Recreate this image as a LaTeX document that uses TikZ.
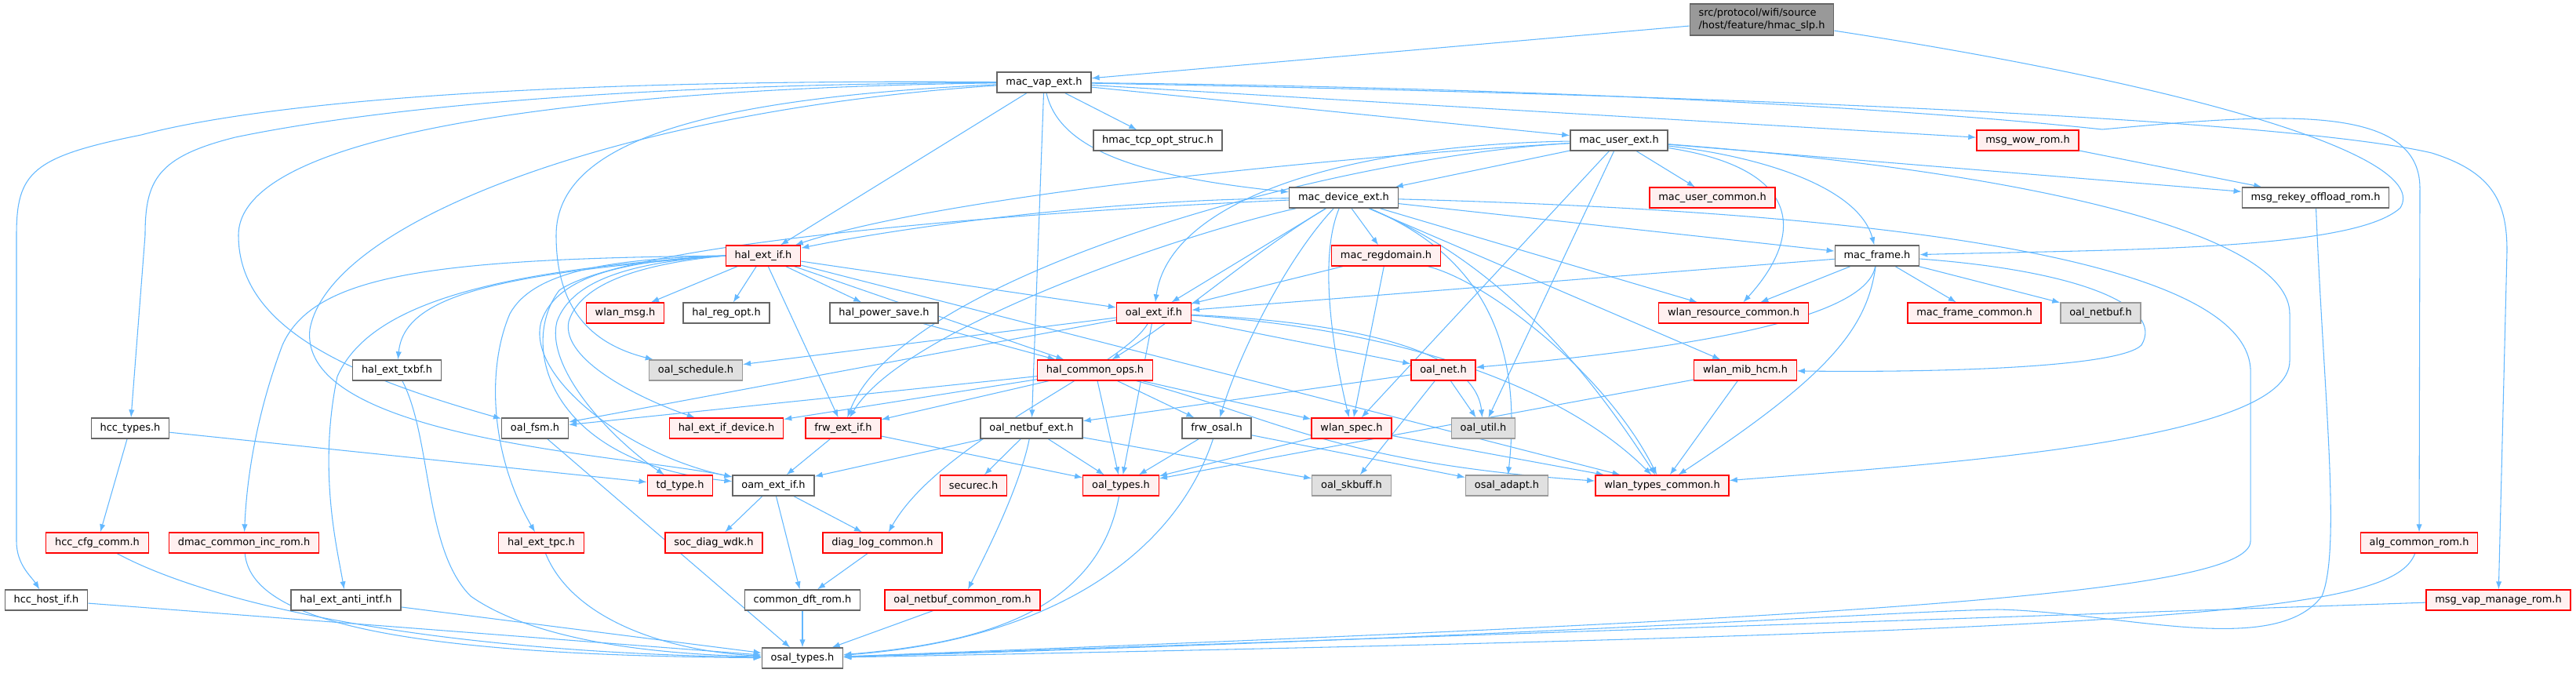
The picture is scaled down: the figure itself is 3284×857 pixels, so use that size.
\documentclass[tikz,border=0pt]{standalone}
\usepackage{fontspec}
\setmainfont{DejaVu Sans}
\usepackage{tikz}
\usetikzlibrary{arrows.meta,backgrounds}
\definecolor{edgeblue}{HTML}{63B8FF}
\definecolor{hdrfill}{HTML}{FFF0F0}

\begin{document}
\begin{tikzpicture}[x=0.75pt, y=-0.75pt]
  \tikzstyle{arrow} = [draw=edgeblue, -{Latex[length=7.5pt,width=5.5pt]}, line width=0.8pt]
  \tikzstyle{hfile} = [rectangle, draw=black!60, fill=white, line width=1pt, inner xsep=8.5pt, inner ysep=0pt, minimum height=19.5pt, font=\fontsize{9.7}{11.6}\selectfont]
  \tikzstyle{hred} = [hfile, draw=red, fill=hdrfill]
  \tikzstyle{hgray} = [hfile, draw=black!40, fill=black!12]
  \tikzstyle{htop} = [hfile, fill=black!40, align=left, minimum height=30pt]
  \useasboundingbox (0,0) rectangle (3284,857);

  % rows, top to bottom
  \node[htop] (slp) at (2246,25) {src/protocol/wifi/source\\/host/feature/hmac\_slp.h};
  \node[hfile] (macvap) at (1331,105) {mac\_vap\_ext.h};
  \node[hfile] (tcpopt) at (1476,179) {hmac\_tcp\_opt\_struc.h};
  \node[hfile] (macuser) at (2064,179) {mac\_user\_ext.h};
  \node[hred] (wowrom) at (2585,179) {msg\_wow\_rom.h};
  \node[hfile] (macdev) at (1713,252) {mac\_device\_ext.h};
  \node[hred] (usercommon) at (2183,252) {mac\_user\_common.h};
  \node[hfile] (rekeyrom) at (2952,252) {msg\_rekey\_offload\_rom.h};
  \node[hred] (halext) at (973,326) {hal\_ext\_if.h};
  \node[hred] (regdomain) at (1767,326) {mac\_regdomain.h};
  \node[hfile] (macframe) at (2393,326) {mac\_frame.h};
  \node[hred] (wlanmsg) at (797,399) {wlan\_msg.h};
  \node[hfile] (halreg) at (926,399) {hal\_reg\_opt.h};
  \node[hfile] (halps) at (1127,399) {hal\_power\_save.h};
  \node[hred] (oalext) at (1471,399) {oal\_ext\_if.h};
  \node[hred] (wlanres) at (2210,399) {wlan\_resource\_common.h};
  \node[hred] (framecommon) at (2517,399) {mac\_frame\_common.h};
  \node[hgray] (oalnetbuf) at (2678,399) {oal\_netbuf.h};
  \node[hfile] (haltxbf) at (506,472) {hal\_ext\_txbf.h};
  \node[hgray] (oalsched) at (887,472) {oal\_schedule.h};
  \node[hred] (halops) at (1396,472) {hal\_common\_ops.h};
  \node[hred] (oalnet) at (1840,472) {oal\_net.h};
  \node[hred] (wlanmib) at (2225,472) {wlan\_mib\_hcm.h};
  \node[hfile] (hcctypes) at (166,546) {hcc\_types.h};
  \node[hfile] (oalfsm) at (682,546) {oal\_fsm.h};
  \node[hred] (haldevice) at (926,546) {hal\_ext\_if\_device.h};
  \node[hred] (frwext) at (1075,546) {frw\_ext\_if.h};
  \node[hfile] (netbufext) at (1315,546) {oal\_netbuf\_ext.h};
  \node[hfile] (frwosal) at (1551,546) {frw\_osal.h};
  \node[hred] (wlanspec) at (1723,546) {wlan\_spec.h};
  \node[hgray] (oalutil) at (1891,546) {oal\_util.h};
  \node[hred] (tdtype) at (867,619) {td\_type.h};
  \node[hfile] (oamext) at (986,619) {oam\_ext\_if.h};
  \node[hred] (securec) at (1241,619) {securec.h};
  \node[hred] (oaltypes) at (1429,619) {oal\_types.h};
  \node[hgray] (oalskbuff) at (1723,619) {oal\_skbuff.h};
  \node[hgray] (osaladapt) at (1921,619) {osal\_adapt.h};
  \node[hred] (wlantypes) at (2119,619) {wlan\_types\_common.h};
  \node[hred] (hcccfg) at (124,692) {hcc\_cfg\_comm.h};
  \node[hred] (dmaccommon) at (311,692) {dmac\_common\_inc\_rom.h};
  \node[hred] (haltpc) at (690,692) {hal\_ext\_tpc.h};
  \node[hred] (diagwdk) at (910,692) {soc\_diag\_wdk.h};
  \node[hred] (diaglog) at (1125,692) {diag\_log\_common.h};
  \node[hred] (algcommon) at (3084,692) {alg\_common\_rom.h};
  \node[hfile] (hcchost) at (59,765) {hcc\_host\_if.h};
  \node[hfile] (halanti) at (441,765) {hal\_ext\_anti\_intf.h};
  \node[hfile] (dftrom) at (1023,765) {common\_dft\_rom.h};
  \node[hred] (netbufrom) at (1227,765) {oal\_netbuf\_common\_rom.h};
  \node[hred] (vapmanage) at (3185,765) {msg\_vap\_manage\_rom.h};
  \node[hfile] (osaltypes) at (1023,839) {osal\_types.h};

  \begin{scope}[on background layer]
  % hmac_slp.h
  \path[arrow] (slp) -- (macvap);
  \path[arrow] (slp) .. controls (2800,110) and (3100,200) .. (3060,265) .. controls (3000,320) and (2700,318) .. (macframe);

  % mac_vap_ext.h
  \path[arrow] (macvap) .. controls (600,100) and (300,140) .. (180,172) .. controls (40,200) and (21,220) .. (21,300) -- (21,690) .. controls (21,720) and (40,735) .. (hcchost);
  \path[arrow] (macvap) .. controls (700,108) and (420,150) .. (300,175) .. controls (200,200) and (185,230) .. (185,300) -- (hcctypes);
  \path[arrow] (macvap) .. controls (800,112) and (304,160) .. (304,300) .. controls (304,420) and (450,480) .. (oalfsm);
  \path[arrow] (macvap) .. controls (900,125) and (709,180) .. (709,300) .. controls (709,400) and (760,440) .. (oalsched);
  \path[arrow] (macvap) .. controls (800,140) and (420,280) .. (395,420) .. controls (380,560) and (800,580) .. (oamext);
  \path[arrow] (macvap) -- (halext);
  \path[arrow] (macvap) -- (tcpopt);
  \path[arrow] (macvap) .. controls (1350,190) and (1450,225) .. (macdev);
  \path[arrow] (macvap) -- (netbufext);
  \path[arrow] (macvap) -- (macuser);
  \path[arrow] (macvap) -- (wowrom);
  \path[arrow] (macvap) .. controls (2000,112) and (2450,140) .. (2680,165) .. controls (2900,145) and (3085,130) .. (3085,240) -- (algcommon);
  \path[arrow] (macvap) .. controls (2400,125) and (2950,160) .. (3100,195) .. controls (3180,220) and (3196,260) .. (3196,320) -- (vapmanage);

  % mac_user_ext.h
  \path[arrow] (macuser) -- (macdev);
  \path[arrow] (macuser) -- (usercommon);
  \path[arrow] (macuser) -- (rekeyrom);
  \path[arrow] (macuser) .. controls (2250,200) and (2370,240) .. (macframe);
  \path[arrow] (macuser) .. controls (2300,215) and (2300,300) .. (wlanres);
  \path[arrow] (macuser) .. controls (2600,220) and (2919,300) .. (2919,400) -- (2919,460) .. controls (2919,560) and (2500,590) .. (wlantypes);
  \path[arrow] (macuser) .. controls (1700,200) and (1200,250) .. (halext);
  \path[arrow] (macuser) .. controls (1700,185) and (1490,260) .. (oalext);
  \path[arrow] (macuser) .. controls (1700,200) and (1150,350) .. (frwext);
  \path[arrow] (macuser) -- (wlanspec);
  \path[arrow] (macuser) -- (oalutil);

  % mac_device_ext.h
  \path[arrow] (macdev) .. controls (1400,255) and (1150,290) .. (halext);
  \path[arrow] (macdev) -- (regdomain);
  \path[arrow] (macdev) -- (macframe);
  \path[arrow] (macdev) -- (oalext);
  \path[arrow] (macdev) -- (wlanres);
  \path[arrow] (macdev) .. controls (1500,300) and (1150,420) .. (frwext);
  \path[arrow] (macdev) .. controls (1600,320) and (1510,400) .. (halops);
  \path[arrow] (macdev) .. controls (1640,330) and (1580,450) .. (frwosal);
  \path[arrow] (macdev) .. controls (1680,330) and (1700,450) .. (wlanspec);
  \path[arrow] (macdev) .. controls (1900,330) and (2010,450) .. (wlantypes);
  \path[arrow] (macdev) -- (wlanmib);
  \path[arrow] (macdev) .. controls (1900,330) and (1940,450) .. (osaladapt);
  \path[arrow] (macdev) .. controls (1300,270) and (800,310) .. (713,370) .. controls (660,440) and (700,590) .. (oamext);
  \path[arrow] (macdev) .. controls (2400,270) and (2860,330) .. (2869,470) -- (2869,690) .. controls (2869,760) and (2300,790) .. (osaltypes);

  % mac_regdomain.h
  \path[arrow] (regdomain) -- (oalext);
  \path[arrow] (regdomain) -- (wlanspec);
  \path[arrow] (regdomain) .. controls (1900,360) and (2050,480) .. (wlantypes);

  % mac_frame.h
  \path[arrow] (macframe) -- (oalext);
  \path[arrow] (macframe) -- (wlanres);
  \path[arrow] (macframe) -- (framecommon);
  \path[arrow] (macframe) -- (oalnetbuf);
  \path[arrow] (macframe) .. controls (2380,400) and (2200,440) .. (oalnet);
  \path[arrow] (macframe) .. controls (2380,420) and (2330,480) .. (wlantypes);
  \path[arrow] (macframe) .. controls (2650,345) and (2760,390) .. (2730,440) .. controls (2700,470) and (2450,475) .. (wlanmib);

  % hal_ext_if.h
  \path[arrow] (halext) -- (wlanmsg);
  \path[arrow] (halext) -- (halreg);
  \path[arrow] (halext) -- (halps);
  \path[arrow] (halext) -- (oalext);
  \path[arrow] (halext) -- (halops);
  \path[arrow] (halext) -- (wlantypes);
  \path[arrow] (halext) -- (frwext);
  \path[arrow] (halext.west) .. controls (620,350) and (515,380) .. (haltxbf);
  \path[arrow] (halext.west) .. controls (550,330) and (400,350) .. (360,440) .. controls (330,520) and (315,600) .. (dmaccommon);
  \path[arrow] (halext.west) .. controls (620,345) and (470,390) .. (430,480) .. controls (405,600) and (430,700) .. (halanti);
  \path[arrow] (halext.west) .. controls (780,330) and (680,345) .. (650,400) .. controls (620,470) and (625,580) .. (haltpc);
  \path[arrow] (halext.west) .. controls (800,332) and (710,350) .. (690,410) .. controls (670,480) and (800,580) .. (oamext);
  \path[arrow] (halext.west) .. controls (810,334) and (730,355) .. (710,410) .. controls (695,470) and (780,560) .. (tdtype);
  \path[arrow] (halext.west) .. controls (820,336) and (740,360) .. (725,410) .. controls (715,460) and (820,510) .. (haldevice);
  \path[arrow] (halps) -- (halops);

  % oal_ext_if.h
  \path[arrow] (oalext) -- (oalsched);
  \path[arrow] (oalext) -- (oalfsm);
  \path[arrow] (oalext) -- (oalnet);
  \path[arrow] (oalext) -- (oaltypes);
  \path[arrow] (oalext) .. controls (1430,470) and (1200,560) .. (diaglog);
  \path[arrow] (oalext) .. controls (1700,410) and (1880,440) .. (oalutil);
  \path[arrow] (oalext) .. controls (1800,420) and (2000,500) .. (wlantypes);

  % hal_common_ops.h
  \path[arrow] (halops) -- (oalfsm);
  \path[arrow] (halops) -- (haldevice);
  \path[arrow] (halops) -- (frwext);
  \path[arrow] (halops) -- (oaltypes);
  \path[arrow] (halops) -- (frwosal);
  \path[arrow] (halops) -- (wlanspec);
  \path[arrow] (halops) .. controls (1620,530) and (1700,590) .. (wlantypes);

  % oal_net.h, wlan_mib_hcm.h, hcc_types.h
  \path[arrow] (oalnet) -- (netbufext);
  \path[arrow] (oalnet) -- (oalskbuff);
  \path[arrow] (oalnet) -- (oalutil);
  \path[arrow] (wlanmib) -- (wlantypes);
  \path[arrow] (wlanmib) -- (oaltypes);
  \path[arrow] (hcctypes) -- (tdtype);
  \path[arrow] (hcctypes) -- (hcccfg);

  % middle rows
  \path[arrow] (oalfsm) -- (osaltypes);
  \path[arrow] (frwext) -- (oamext);
  \path[arrow] (frwext) -- (oaltypes);
  \path[arrow] (netbufext) -- (oamext);
  \path[arrow] (netbufext) -- (securec);
  \path[arrow] (netbufext) -- (oaltypes);
  \path[arrow] (netbufext) -- (oalskbuff);
  \path[arrow] (netbufext) .. controls (1300,620) and (1260,700) .. (netbufrom);
  \path[arrow] (frwosal) -- (oaltypes);
  \path[arrow] (frwosal) -- (osaladapt);
  \path[arrow] (frwosal) .. controls (1500,700) and (1350,815) .. (osaltypes);
  \path[arrow] (wlanspec) -- (oaltypes);
  \path[arrow] (wlanspec) -- (wlantypes);
  \path[arrow] (oamext) -- (diagwdk);
  \path[arrow] (oamext) -- (diaglog);
  \path[arrow] (oamext) -- (dftrom);
  \path[arrow] (diaglog) -- (dftrom);
  \path[arrow] (wowrom) -- (rekeyrom);

  % into osal_types.h
  \path[arrow] (oaltypes) .. controls (1400,780) and (1250,820) .. (osaltypes);
  \path[arrow] (hcchost) -- (osaltypes);
  \path[arrow] (hcccfg) .. controls (250,760) and (500,830) .. (osaltypes);
  \path[arrow] (dmaccommon) .. controls (320,790) and (500,835) .. (osaltypes);
  \path[arrow] (halanti) -- (osaltypes);
  \path[arrow] (haltxbf) .. controls (551,560) and (540,700) .. (600,760) .. controls (700,830) and (900,835) .. (osaltypes);
  \path[arrow] (haltpc) .. controls (730,790) and (850,830) .. (osaltypes);
  \path[arrow] (dftrom) -- (osaltypes);
  \path[arrow] (netbufrom) -- (osaltypes);
  \path[arrow] (algcommon) .. controls (3050,780) and (2800,805) .. (osaltypes);
  \path[arrow] (vapmanage) -- (osaltypes);
  \path[arrow] (rekeyrom) .. controls (2962,500) and (2985,700) .. (2960,760) .. controls (2900,840) and (2700,780) .. (2546,777) .. controls (2400,780) and (2000,810) .. (osaltypes);
  \end{scope}
\end{tikzpicture}
\end{document}
